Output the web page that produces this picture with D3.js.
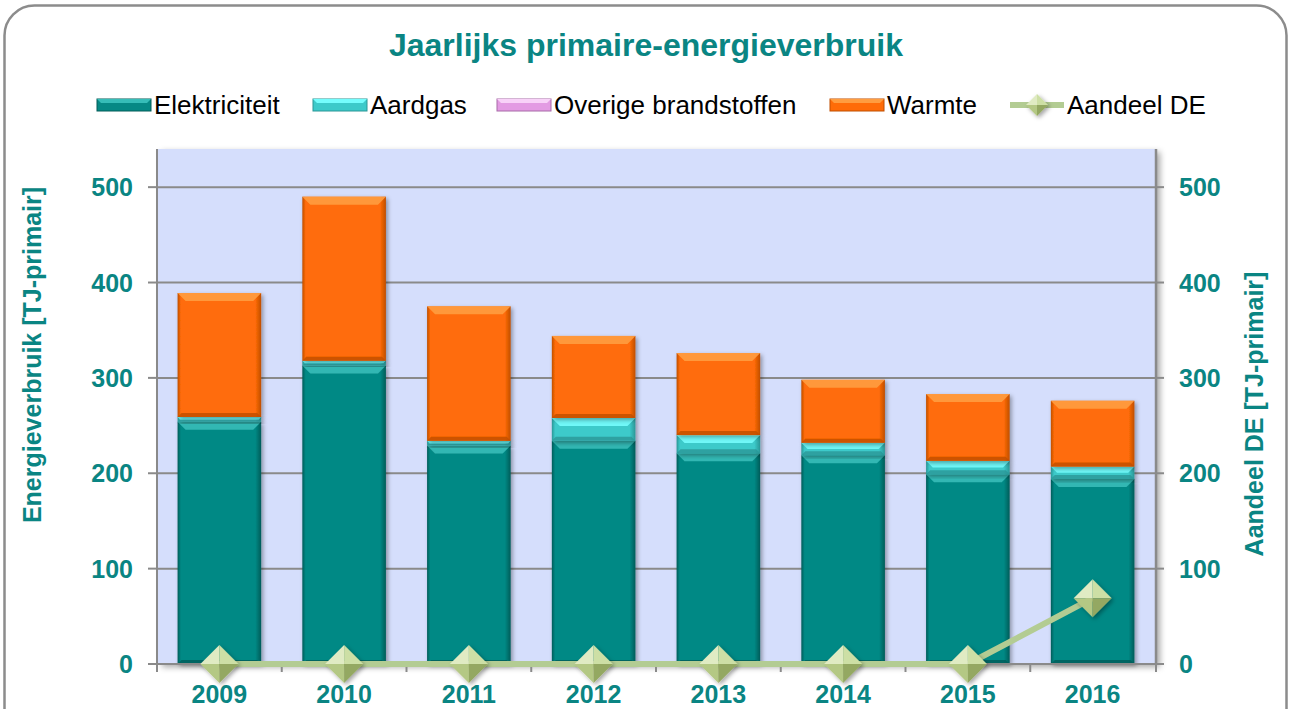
<!DOCTYPE html>
<html>
<head>
<meta charset="utf-8">
<script src="https://cdn.jsdelivr.net/npm/d3@7"></script>
<style>
  html, body { margin: 0; padding: 0; background: #ffffff; }
  svg { display: block; font-family: "Liberation Sans", Arial, sans-serif; }
</style>
</head>
<body>
<svg id="chart" width="1291" height="709"></svg>
<script>
// ---- data ----
const years = ["2009", "2010", "2011", "2012", "2013", "2014", "2015", "2016"];
const elektriciteit = [254, 313, 229, 234, 221, 219, 199, 194];
const aardgas = [5, 5, 5, 24, 19, 13, 14, 13];
const overigeBrandstoffen = [0, 0, 0, 0, 0, 0, 0, 0];
const warmte = [130, 172, 141, 86, 86, 66, 70, 69];
const aandeelDE = [0, 0, 0, 0, 0, 0, 0, 69];
const yTicks = [0, 100, 200, 300, 400, 500];
const seriesNames = ["Elektriciteit", "Aardgas", "Overige brandstoffen", "Warmte"];
const lineName = "Aandeel DE";
const title = "Jaarlijks primaire-energieverbruik";
const yLabelLeft = "Energieverbruik [TJ-primair]";
const yLabelRight = "Aandeel DE [TJ-primair]";

// ---- styles ----
const teal = "#0a8583";
const palette = [
  { base: "#068985", light: "#36bdb8", dark: "#035c59" },
  { base: "#3ccaca", light: "#74fdfd", dark: "#2a9696" },
  { base: "#e39be3", light: "#f8d2f8", dark: "#a86aa8" },
  { base: "#ff6c08", light: "#ff9d40", dark: "#bf4e00" }
];
const lineColor = "#b3cc93";

const svg = d3.select("#chart");
const defs = svg.append("defs");

const sh = defs.append("filter").attr("id", "shadow").attr("x", "-20%").attr("y", "-20%").attr("width", "150%").attr("height", "150%");
sh.append("feDropShadow").attr("dx", 2).attr("dy", 2).attr("stdDeviation", 2).attr("flood-color", "#000").attr("flood-opacity", 0.35);
const shp = defs.append("filter").attr("id", "pshadow").attr("x", "-5%").attr("y", "-5%").attr("width", "110%").attr("height", "110%");
shp.append("feDropShadow").attr("dx", 5).attr("dy", 3).attr("stdDeviation", 3).attr("flood-color", "#000").attr("flood-opacity", 0.35);

// horizontal gradients for bars
palette.forEach((p, i) => {
  const g = defs.append("linearGradient").attr("id", "grad" + i).attr("x1", 0).attr("x2", 1).attr("y1", 0).attr("y2", 0);
  g.append("stop").attr("offset", "0%").attr("stop-color", p.dark);
  g.append("stop").attr("offset", "4%").attr("stop-color", p.base);
  g.append("stop").attr("offset", "93%").attr("stop-color", p.base);
  g.append("stop").attr("offset", "100%").attr("stop-color", p.dark);
});

// outer border
svg.append("rect").attr("x", 4.5).attr("y", 5.5).attr("width", 1282).attr("height", 740)
  .attr("rx", 30).attr("fill", "#fff").attr("stroke", "#8c8c8c").attr("stroke-width", 2.5);

// ---- scales ----
const plot = { left: 157, right: 1155, top: 149, bottom: 664 };
const x = d3.scaleBand().domain(years).range([plot.left, plot.right]).paddingInner(0.33).paddingOuter(0.165);
const xb = d3.scaleBand().domain(years).range([plot.left, plot.right]);
const y = d3.scaleLinear().domain([0, 540]).range([plot.bottom, plot.top]);

// plot background
svg.append("rect").attr("x", plot.left).attr("y", plot.top).attr("width", plot.right - plot.left).attr("height", plot.bottom - plot.top)
  .attr("fill", "#d5defc").attr("filter", "url(#pshadow)");

// gridlines
svg.append("g").selectAll("line").data(yTicks.filter(d => d > 0)).join("line")
  .attr("x1", plot.left).attr("x2", plot.right).attr("y1", d => y(d)).attr("y2", d => y(d))
  .attr("stroke", "#8a8a8a").attr("stroke-width", 2);

// ---- stacked bars ----
const rows = years.map((yr, i) => ({ year: yr, s0: elektriciteit[i], s1: aardgas[i], s2: overigeBrandstoffen[i], s3: warmte[i] }));
const stack = d3.stack().keys(["s0", "s1", "s2", "s3"])(rows);

const barG = svg.append("g");
stack.forEach((layer, si) => {
  const p = palette[si];
  layer.forEach((seg, i) => {
    const v0 = seg[0], v1 = seg[1];
    if (v1 - v0 <= 0) return;
    const x0 = x(years[i]), w = x.bandwidth();
    const yt = y(v1), yb = y(v0), h = yb - yt;
    const g = barG.append("g").attr("filter", "url(#shadow)");
    g.append("rect").attr("x", x0).attr("y", yt).attr("width", w).attr("height", h).attr("fill", "url(#grad" + si + ")");
    const bv = Math.min(8, h / 2);
    // top bevel (light)
    g.append("path").attr("d", `M${x0},${yt} L${x0 + w},${yt} L${x0 + w - bv},${yt + bv} L${x0 + bv},${yt + bv} Z`)
      .attr("fill", p.light).attr("opacity", 0.9);
    // bottom bevel (dark)
    const bb = Math.min(4, h / 3);
    g.append("path").attr("d", `M${x0},${yb} L${x0 + w},${yb} L${x0 + w - bb},${yb - bb} L${x0 + bb},${yb - bb} Z`)
      .attr("fill", p.dark).attr("opacity", 0.8);
  });
});

// ---- axes ----
const axisColor = "#8a8a8a";
// left axis
svg.append("line").attr("x1", plot.left).attr("x2", plot.left).attr("y1", plot.top).attr("y2", plot.bottom + 1).attr("stroke", axisColor).attr("stroke-width", 2);
svg.append("g").selectAll("line").data(yTicks).join("line")
  .attr("x1", plot.left - 9).attr("x2", plot.left).attr("y1", d => y(d)).attr("y2", d => y(d))
  .attr("stroke", axisColor).attr("stroke-width", 2);
svg.append("g").selectAll("text").data(yTicks).join("text")
  .attr("x", 133).attr("y", d => y(d)).attr("dy", "0.36em").attr("text-anchor", "end")
  .attr("font-size", 25).attr("font-weight", "bold").attr("fill", teal).text(d => d);
// right axis
svg.append("line").attr("x1", plot.right + 1).attr("x2", plot.right + 1).attr("y1", plot.top).attr("y2", plot.bottom + 1).attr("stroke", axisColor).attr("stroke-width", 2.5);
svg.append("g").selectAll("line").data(yTicks).join("line")
  .attr("x1", plot.right).attr("x2", plot.right + 9).attr("y1", d => y(d)).attr("y2", d => y(d))
  .attr("stroke", axisColor).attr("stroke-width", 2);
svg.append("g").selectAll("text").data(yTicks).join("text")
  .attr("x", 1179).attr("y", d => y(d)).attr("dy", "0.36em").attr("text-anchor", "start")
  .attr("font-size", 25).attr("font-weight", "bold").attr("fill", teal).text(d => d);
// x axis
svg.append("line").attr("x1", plot.left).attr("x2", plot.right + 1).attr("y1", plot.bottom).attr("y2", plot.bottom).attr("stroke", axisColor).attr("stroke-width", 2);
const xTickPos = years.map(d => xb(d)).concat([plot.right + 1]);
svg.append("g").selectAll("line").data(xTickPos).join("line")
  .attr("x1", d => d).attr("x2", d => d).attr("y1", plot.bottom).attr("y2", plot.bottom + 8)
  .attr("stroke", axisColor).attr("stroke-width", 2);
svg.append("g").selectAll("text").data(years).join("text")
  .attr("x", d => xb(d) + xb.bandwidth() / 2).attr("y", 703).attr("text-anchor", "middle")
  .attr("font-size", 25).attr("font-weight", "bold").attr("fill", teal).text(d => d);

// axis titles
svg.append("text").attr("transform", "translate(32,355) rotate(-90)").attr("text-anchor", "middle").attr("dy", "0.36em")
  .attr("font-size", 25).attr("font-weight", "bold").attr("fill", teal).text(yLabelLeft);
svg.append("text").attr("transform", "translate(1254,414) rotate(-90)").attr("text-anchor", "middle").attr("dy", "0.36em")
  .attr("font-size", 25).attr("font-weight", "bold").attr("fill", teal).text(yLabelRight);

// ---- line + diamonds ----
function diamond(g, cx, cy, r) {
  const facets = [
    { d: `M${cx},${cy - r} L${cx - r},${cy} L${cx},${cy} Z`, f: "#e0ebc3" },
    { d: `M${cx},${cy - r} L${cx + r},${cy} L${cx},${cy} Z`, f: "#cddfa5" },
    { d: `M${cx - r},${cy} L${cx},${cy + r} L${cx},${cy} Z`, f: "#b4c884" },
    { d: `M${cx + r},${cy} L${cx},${cy + r} L${cx},${cy} Z`, f: "#94a862" }
  ];
  const dg = g.append("g").attr("filter", "url(#shadow)");
  facets.forEach(fc => dg.append("path").attr("d", fc.d).attr("fill", fc.f));
}
const lineGen = d3.line().x((d, i) => xb(years[i]) + xb.bandwidth() / 2).y(d => y(d));
svg.append("path").datum(aandeelDE).attr("d", lineGen).attr("fill", "none")
  .attr("stroke", lineColor).attr("stroke-width", 6).attr("stroke-linejoin", "round");
const mG = svg.append("g");
aandeelDE.forEach((v, i) => diamond(mG, xb(years[i]) + xb.bandwidth() / 2, y(v), 19));

// ---- title ----
svg.append("text").attr("x", 646).attr("y", 56).attr("text-anchor", "middle")
  .attr("font-size", 32).attr("font-weight", "bold").attr("fill", teal).text(title);

// ---- legend ----
const legendY = 105;
const legendItems = [
  { name: seriesNames[0], sx: 97, type: "bar", p: palette[0] },
  { name: seriesNames[1], sx: 313, type: "bar", p: palette[1] },
  { name: seriesNames[2], sx: 497, type: "bar", p: palette[2] },
  { name: seriesNames[3], sx: 830, type: "bar", p: palette[3] },
  { name: lineName, sx: 1010, type: "line" }
];
const lg = svg.append("g");
legendItems.forEach(it => {
  if (it.type === "bar") {
    const w = 54, h = 12, x0 = it.sx, y0 = legendY - h / 2;
    lg.append("rect").attr("x", x0).attr("y", y0).attr("width", w).attr("height", h).attr("fill", it.p.base).attr("stroke", it.p.dark).attr("stroke-width", 1);
    lg.append("path").attr("d", `M${x0},${y0} L${x0 + w},${y0} L${x0 + w - 4},${y0 + 4} L${x0 + 4},${y0 + 4} Z`).attr("fill", it.p.light);
  } else {
    lg.append("line").attr("x1", it.sx).attr("x2", it.sx + 54).attr("y1", legendY).attr("y2", legendY)
      .attr("stroke", lineColor).attr("stroke-width", 6);
    diamond(lg, it.sx + 27, legendY, 11);
  }
  lg.append("text").attr("x", it.sx + 57).attr("y", legendY).attr("dy", "0.36em")
    .attr("font-size", 26).attr("fill", "#000").text(it.name);
});
</script>
</body>
</html>
